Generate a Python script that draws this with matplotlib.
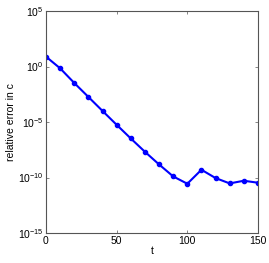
import matplotlib
matplotlib.use("Agg")
import matplotlib.pyplot as plt
import numpy as np

t = [0, 10, 20, 30, 40, 50, 60, 70, 80, 90, 100, 110, 120, 130, 140, 150]
log_err = [0.89, -0.16, -1.48, -2.74, -4.0, -5.25, -6.48, -7.68, -8.82, -9.9,
           -10.56, -9.3, -10.05, -10.53, -10.29, -10.47]
err = [10.0 ** v for v in log_err]

plt.rcParams['font.family'] = ['Liberation Sans', 'DejaVu Sans']
plt.rcParams['mathtext.fontset'] = 'custom'
plt.rcParams['mathtext.rm'] = 'Liberation Sans'

fig = plt.figure(figsize=(2.69, 2.63), dpi=100)
ax = fig.add_axes([0.171, 0.114, 0.788, 0.844])
ax.semilogy(t, err, color='b', lw=1.5, marker='o', ms=3)

ax.set_xlim(0, 150)
ax.set_ylim(1e-15, 1e5)
ax.set_xticks([0, 50, 100, 150])
ax.set_yticks([1e-15, 1e-10, 1e-5, 1e0, 1e5])
ax.yaxis.set_minor_locator(matplotlib.ticker.NullLocator())
ax.tick_params(direction='in', top=True, right=True, labelsize=7.5,
               length=2.5, width=0.5, color='#555555', pad=2)
for s in ax.spines.values():
    s.set_color('#555555')
    s.set_linewidth(0.8)

ax.set_xlabel('t', fontsize=7.5, labelpad=0)
ax.set_ylabel('relative error in c', fontsize=7.5, labelpad=1)

fig.savefig('out.png', dpi=100)
